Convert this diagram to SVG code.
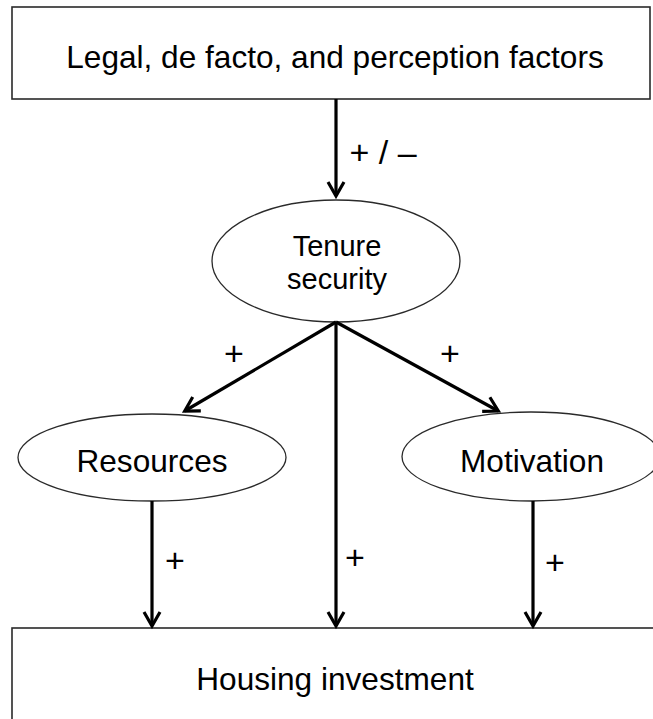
<svg xmlns="http://www.w3.org/2000/svg" width="653" height="719" viewBox="0 0 653 719">
<style>
.box{fill:#fff;stroke:#2a2a2a;stroke-width:1.6}
.ell{fill:#fff;stroke:#2a2a2a;stroke-width:1.3}
.t{font-family:"Liberation Sans",Arial,sans-serif;font-size:31.6px;fill:#000;text-anchor:middle}
.t2{font-family:"Liberation Sans",Arial,sans-serif;font-size:29px;fill:#000;text-anchor:middle}
.lbl{font-family:"Liberation Sans",Arial,sans-serif;font-size:34px;fill:#000;text-anchor:middle}
.arr{stroke:#000;stroke-width:3.2;fill:none;marker-end:url(#ah)}
</style>
<defs>
<marker id="ah" markerUnits="userSpaceOnUse" viewBox="-20 -12 24 24" refX="0" refY="0" markerWidth="24" markerHeight="24" orient="auto">
<path d="M-14,-8 L0,0 L-14,8" fill="none" stroke="#000" stroke-width="3.2" stroke-linejoin="miter"/>
</marker>
</defs>
<rect width="653" height="719" fill="#fff"/>
<g id="legal">
<rect class="box" x="12" y="7" width="638" height="92"/>
<text class="t" x="335" y="68">Legal, de facto, and perception factors</text>
</g>
<g id="tenure">
<ellipse class="ell" cx="336" cy="261" rx="124" ry="61"/>
<text class="t2" x="337" y="256">Tenure</text>
<text class="t2" x="337" y="289">security</text>
</g>
<g id="resources">
<ellipse class="ell" cx="152" cy="457.5" rx="134" ry="43.5"/>
<text class="t" x="152" y="472">Resources</text>
</g>
<g id="motivation">
<ellipse class="ell" cx="531" cy="456.5" rx="129" ry="44.5"/>
<text class="t" x="532" y="472">Motivation</text>
</g>
<g id="housing">
<rect class="box" x="12" y="628" width="650" height="100"/>
<text class="t" x="335" y="690">Housing investment</text>
</g>
<g id="connectors">
<line class="arr" x1="336" y1="99" x2="336" y2="196"/>
<line class="arr" x1="336" y1="322" x2="184.7" y2="411"/>
<line class="arr" x1="336" y1="322" x2="498.3" y2="411"/>
<line class="arr" x1="152" y1="501" x2="152" y2="626"/>
<line class="arr" x1="336" y1="322" x2="336" y2="626"/>
<line class="arr" x1="533" y1="501" x2="533" y2="626"/>
<text class="lbl" x="383" y="164">+ / –</text>
<text class="lbl" x="234" y="365">+</text>
<text class="lbl" x="450" y="365">+</text>
<text class="lbl" x="175" y="572">+</text>
<text class="lbl" x="355" y="569">+</text>
<text class="lbl" x="555" y="574">+</text>
</g>
</svg>
